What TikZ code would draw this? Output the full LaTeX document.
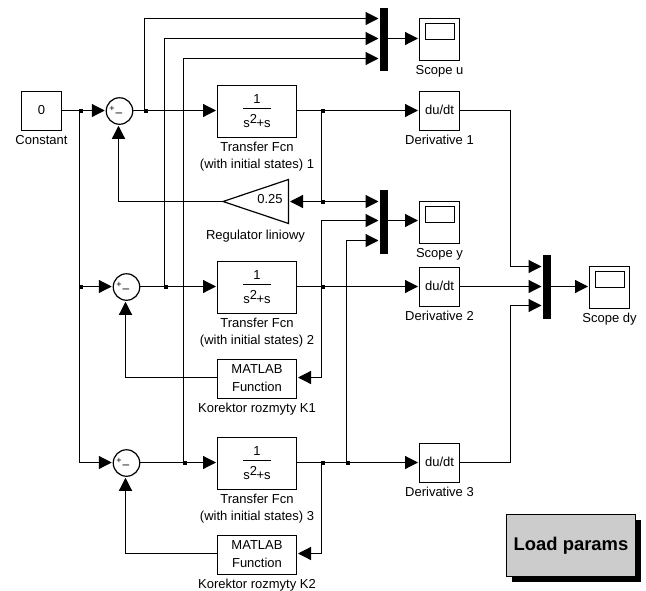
\documentclass[tikz,border=0pt]{standalone}
\usepackage{fontspec}
\setmainfont{Liberation Sans}
\usetikzlibrary{arrows.meta,calc,shadows}

\newcommand{\plantfrac}{\begin{tabular}{@{}c@{}}\raisebox{-1pt}{1}\\[1pt]\hline\rule{0pt}{19pt}s\raisebox{4.5pt}{2}\kern-0.5pt+s\end{tabular}}

\tikzset{
    sig/.style={line width=1.2pt, shorten >=1.5pt, -{Triangle[length=13pt,width=13pt]}},
    wire/.style={line width=1.2pt},
    blk/.style={draw, line width=1.2pt, rectangle, inner sep=0pt, outer sep=0pt, align=center, font=\fontsize{13}{17.5}\selectfont},
    sumblk/.style={draw, line width=1.2pt, circle, inner sep=0pt, outer sep=0pt, minimum size=26.5pt},
    mux/.style={fill=black, rectangle, inner sep=0pt, outer sep=0pt, minimum width=8pt, minimum height=63.5pt},
    jct/.style={fill=black, rectangle, inner sep=0pt, outer sep=0pt, minimum size=4pt},
    blkcap/.style={anchor=north, inner sep=4.5pt, align=center, font=\fontsize{13}{17}\selectfont},
    sgn/.style={inner sep=0pt, font=\fontsize{9}{9}\selectfont},
    screen/.style={draw, line width=1.2pt, rectangle, inner sep=0pt, outer sep=0pt, minimum width=29pt, minimum height=16pt, anchor=north}
}

\begin{document}
\begin{tikzpicture}[x=1pt, y=-1pt]
    \useasboundingbox (0,0) rectangle (646,590);

    % Source
    \node[blk, minimum width=40pt, minimum height=39pt] (const) at (41.5,111) {\raisebox{2.5pt}{0}};
    \node[blkcap] (constcap) at (const.south) {Constant};

    % Three rows: sum, plant, derivative
    \foreach \i/\x/\y in {1/119.5/110.5, 2/126.5/286.5, 3/126.5/462.5} {
        \coordinate (r\i) at (0,\y);
        \node[sumblk] (sum\i) at (\x,\y+0.5) {};
        \node[sgn] (sum\i p) at ([shift={(-7.5,-2)}]sum\i.center) {+};
        \node[sgn] (sum\i m) at ([shift={(-0.5,4)}]sum\i.center) {\fontsize{12}{12}\selectfont --};
        \node[blk, minimum width=79pt, minimum height=52pt] (fcn\i) at (257,\y+1) {\plantfrac};
        \node[blkcap] (fcn\i cap) at (fcn\i.south) {Transfer Fcn\\(with initial states) \i};
        \node[blk, minimum width=40pt, minimum height=39pt] (deriv\i) at (439.5,\y+0.5) {\raisebox{2.5pt}{du/dt}};
        \node[blkcap] (deriv\i cap) at (deriv\i.south) {Derivative \i};
    }

    % Gain
    \coordinate (gainW) at (223,201.5);
    \coordinate (gainE) at (288.5,201.5);
    \draw[wire, line join=miter] (gainW) -- (288.5,179.5) -- (288.5,223.5) -- cycle;
    \node[inner sep=0pt, font=\fontsize{13}{17}\selectfont] (gain) at (270,199.5) {0.25};
    \node[blkcap] (gaincap) at (255.5,225) {Regulator liniowy};

    % Fuzzy correctors
    \node[blk, minimum width=79pt, minimum height=39pt] (kor1) at (257,379) {\raisebox{1.5pt}{MATLAB}\\\raisebox{1.5pt}{Function}};
    \node[blkcap] (kor1cap) at (kor1.south) {Korektor rozmyty K1};
    \node[blk, minimum width=79pt, minimum height=39pt] (kor2) at (257,555) {\raisebox{1.5pt}{MATLAB}\\\raisebox{1.5pt}{Function}};
    \node[blkcap] (kor2cap) at (kor2.south) {Korektor rozmyty K2};

    % Muxes
    \node[mux] (muxu) at (384,39.5) {};
    \node[mux] (muxy) at (384,221.75) {};
    \node[mux] (muxd) at (547,287) {};
    \coordinate (portu1) at (380,18.5);
    \coordinate (portu2) at (380,38.5);
    \coordinate (portu3) at (380,58.5);
    \coordinate (porty1) at (380,201.5);
    \coordinate (porty2) at (380,220.5);
    \coordinate (porty3) at (380,240.5);
    \coordinate (portd1) at (543,266.5);
    \coordinate (portd2) at (543,286.5);
    \coordinate (portd3) at (543,305.5);

    % Scopes
    \node[blk, minimum width=40pt, minimum height=42pt] (scopeu) at (439.5,39.5) {};
    \node[blkcap] (scopeucap) at (scopeu.south) {Scope u};
    \node[blk, minimum width=40pt, minimum height=42pt] (scopey) at (439.5,222.5) {};
    \node[blkcap] (scopeycap) at (scopey.south) {Scope y};
    \node[blk, minimum width=40pt, minimum height=42pt] (scoped) at (609.5,287.5) {};
    \node[blkcap] (scopedcap) at (scoped.south) {Scope dy};
    \foreach \s in {scopeu, scopey, scoped} \node[screen] (\s scr) at ([xshift=0.5pt, yshift=-5pt]\s.north) {};

    % Junctions
    \node[jct] (j1) at (80.5,110.5) {};
    \node[jct] (j2) at (80.5,286.5) {};
    \node[jct] (u1) at (145.5,110.5) {};
    \node[jct] (u2) at (165.5,286.5) {};
    \node[jct] (u3) at (184.5,462.5) {};
    \node[jct] (y1) at (322.5,110.5) {};
    \node[jct] (y1g) at (322.5,201.5) {};
    \node[jct] (y2) at (322.5,286.5) {};
    \node[jct] (y3) at (322.5,462.5) {};
    \node[jct] (y3b) at (347.5,462.5) {};

    % Reference lines
    \draw[sig] (r1 -| const.east) -- (r1 -| sum1.west);
    \draw[wire] ([xshift=-1pt]j1.center) -- ([xshift=-1pt]j2.center);
    \draw[sig] (j2.center) -- (r2 -| sum2.west);
    \draw[sig] ([xshift=-1pt]j2.center) |- (r3 -| sum3.west);

    % Forward path
    \foreach \i in {1,2,3} {
        \draw[sig] (r\i -| sum\i.east) -- (r\i -| fcn\i.west);
        \draw[sig] (r\i -| fcn\i.east) -- (r\i -| deriv\i.west);
    }

    % Control signals to scope u
    \draw[sig] ([xshift=-1pt]u1.center) |- (portu1);
    \draw[sig] ([xshift=-1pt]u2.center) |- (portu2);
    \draw[sig] ([xshift=-1pt]u3.center) |- (portu3);
    \draw[sig] (muxu.east |- portu2) -- (portu2 -| scopeu.west);

    % Outputs to scope y
    \draw[wire] ([xshift=-1pt]y1.center) -- ([xshift=-1pt]y1g.center);
    \draw[sig] (y1g.center) -- (porty1);
    \draw[sig] (y1g.center) -- (gainE);
    \draw[sig] ([xshift=-1pt]y2.center) |- (porty2);
    \draw[sig] ([xshift=-1pt]y3b.center) |- (porty3);
    \draw[sig] (muxy.east |- porty2) -- (porty2 -| scopey.west);

    % Feedback
    \coordinate (fb1) at (118.5,201.5);
    \coordinate (fb2) at (125.5,377.5);
    \coordinate (fb3) at (125.5,553.5);
    \draw[sig] (gainW) -- (fb1) -- (fb1 |- sum1.south);
    \draw[sig] ([xshift=-1pt]y2.center) |- (kor1.east |- fb2);
    \draw[sig] ([xshift=-1pt]y3.center) |- (kor2.east |- fb3);
    \draw[sig] (kor1.west |- fb2) -- (fb2) -- (fb2 |- sum2.south);
    \draw[sig] (kor2.west |- fb3) -- (fb3) -- (fb3 |- sum3.south);

    % Derivatives to scope dy
    \coordinate (bend1) at (510.5,110.5);
    \coordinate (bend3) at (510.5,462.5);
    \draw[sig] (r1 -| deriv1.east) -- (bend1) |- (portd1);
    \draw[sig] (r2 -| deriv2.east) -- (portd2);
    \draw[sig] (r3 -| deriv3.east) -- (bend3) |- (portd3);
    \draw[sig] (muxd.east |- portd2) -- (portd2 -| scoped.west);

    % Button
    \node[draw, line width=1.2pt, fill=black!20, rectangle, inner sep=0pt, outer sep=0pt, minimum width=129pt, minimum height=62pt,
        drop shadow={shadow xshift=5.5pt, shadow yshift=-5.5pt, fill=black, opacity=1},
        font=\fontsize{18.4}{18.4}\selectfont\bfseries] (load) at (571,545.5) {Load params};
\end{tikzpicture}
\end{document}
